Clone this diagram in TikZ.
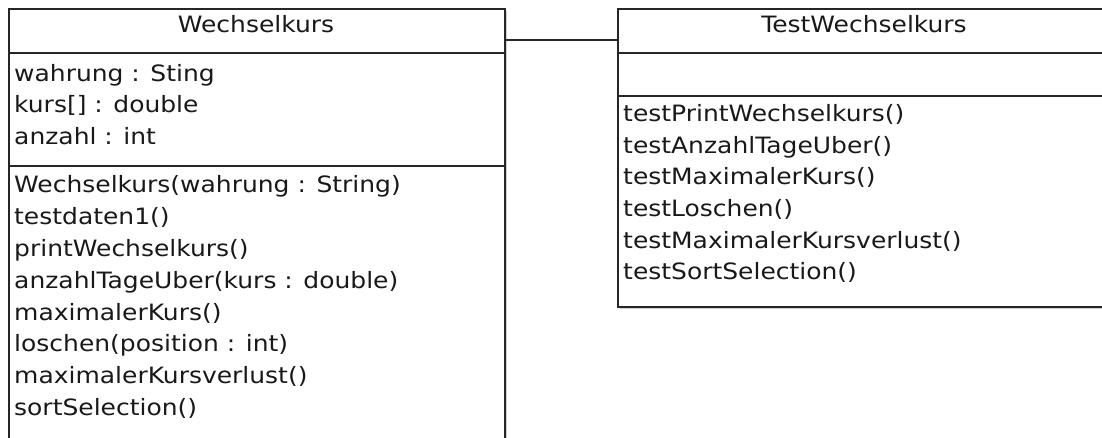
\documentclass[tikz,border=0pt]{standalone}
\usepackage{fontspec}
\setmainfont{DejaVu Sans}[FakeStretch=1.11]
\begin{document}
\begin{tikzpicture}[x=1pt,y=-1pt,
  box/.style={draw=black!85,line width=1.6pt,fill=white,rectangle,inner sep=0pt,anchor=north west},
  shadow/.style={fill=black!18,draw=none,rectangle,inner sep=0pt,anchor=north west},
  sep/.style={draw=black!85,line width=1.6pt},
  conn/.style={draw=black!85,line width=1.6pt},
  title/.style={inner sep=0pt,anchor=base,font=\fontsize{22.5}{26}\selectfont,text=black!90},
  item/.style={inner sep=0pt,anchor=base west,font=\fontsize{22.5}{26}\selectfont,text=black!90}]
\useasboundingbox (0,0) rectangle (1102,437);
\clip (0,0) rectangle (1102,437);
% shadows
\node[shadow,minimum width=496pt,minimum height=470pt] (wkshadow) at (10.5,10.5) {};
\node[shadow,minimum width=494pt,minimum height=298pt] (twkshadow) at (619.5,10.5) {};
% boxes
\node[box,minimum width=496pt,minimum height=470pt] (wk) at (8,8) {};
\node[box,minimum width=494pt,minimum height=298pt] (twk) at (617,8) {};
% compartments
\draw[sep] (8,53) -- (504,53);
\draw[sep] (8,166) -- (504,166);
\draw[sep] (617,53) -- (1111,53);
\draw[sep] (617,96) -- (1111,96);
% connector
\draw[conn] ([yshift=-32pt]wk.north east) -- ([yshift=-32pt]twk.north west);
% titles
\node[title] (wkt) at (256,32) {Wechselkurs};
\node[title] (twkt) at (864,32) {TestWechselkurs};
% attributes
\node[item] (a1) at (14,81) {wahrung : Sting};
\node[item] (a2) at (14,112.5) {kurs[] : double};
\node[item] (a3) at (14,144) {anzahl : int};
% methods
\node[item] (m1) at (14,192) {Wechselkurs(wahrung : String)};
\node[item] (m2) at (14,224) {testdaten1()};
\node[item] (m3) at (14,256) {printWechselkurs()};
\node[item] (m4) at (14,288) {anzahlTageUber(kurs : double)};
\node[item] (m5) at (14,320) {maximalerKurs()};
\node[item] (m6) at (14,351) {loschen(position : int)};
\node[item] (m7) at (14,383) {maximalerKursverlust()};
\node[item] (m8) at (14,415) {sortSelection()};
% test methods
\node[item] (t1) at (623,121) {testPrintWechselkurs()};
\node[item] (t2) at (623,153) {testAnzahlTageUber()};
\node[item] (t3) at (623,184.5) {testMaximalerKurs()};
\node[item] (t4) at (623,216) {testLoschen()};
\node[item] (t5) at (623,248) {testMaximalerKursverlust()};
\node[item] (t6) at (623,279.5) {testSortSelection()};
\end{tikzpicture}
\end{document}
